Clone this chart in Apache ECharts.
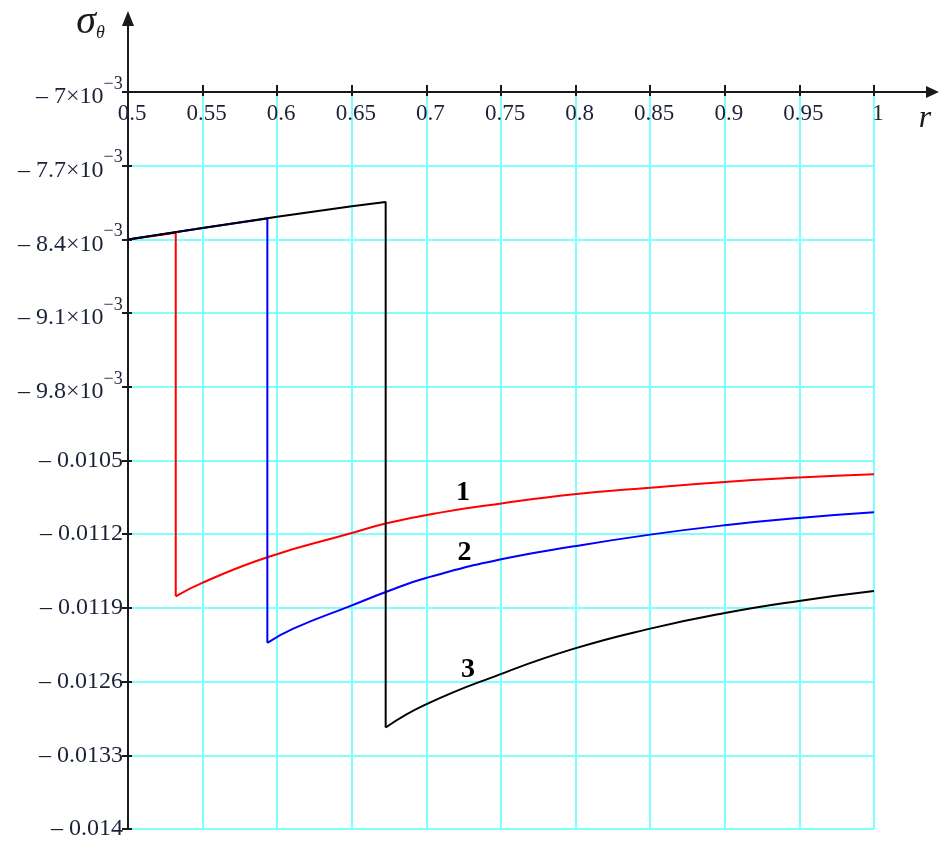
<!DOCTYPE html>
<html>
<head>
<meta charset="utf-8">
<script src="https://cdn.jsdelivr.net/npm/echarts@6/dist/echarts.min.js"></script>
<style>
  html, body { margin: 0; padding: 0; background: #fff; }
  #chart { width: 940px; height: 843px; }
</style>
</head>
<body>
<div id="chart"></div>
<script>
// Axis ranges and tick labels
const xMin = 0.5, xMax = 1, xStep = 0.05;
const yMin = -0.014, yMax = -0.007, yStep = 0.0007;
const xTickLabels = ['0.5', '0.55', '0.6', '0.65', '0.7', '0.75', '0.8', '0.85', '0.9', '0.95', '1'];
const yTickLabels = ['– 0.014', '– 0.0133', '– 0.0126', '– 0.0119', '– 0.0112', '– 0.0105',
                     '– 9.8×10^−3', '– 9.1×10^−3', '– 8.4×10^−3', '– 7.7×10^−3', '– 7×10^−3'];

// Curve 1 (red): radius r and hoop stress σθ (the repeated r is the jump)
const r1 = [0.5, 0.532, 0.532, 0.5494, 0.5934, 0.6488, 0.6741, 0.7091, 0.7493, 0.799, 0.85, 0.9, 0.9497, 1.0];
const s1 = [-0.0084, -0.008336, -0.01179, -0.011664, -0.011419, -0.011194, -0.011094, -0.010995, -0.01091, -0.010821, -0.010758, -0.010704, -0.010662, -0.010631];

// Curve 2 (blue)
const r2 = [0.5, 0.55, 0.5934, 0.5934, 0.6108, 0.6488, 0.6741, 0.6997, 0.7493, 0.799, 0.85, 0.9, 0.9497, 1.0];
const s2 = [-0.0084, -0.008292, -0.008202, -0.012232, -0.012097, -0.011883, -0.011742, -0.011616, -0.011441, -0.011315, -0.011204, -0.011115, -0.011046, -0.010992];

// Curve 3 (black)
const r3 = [0.5, 0.55, 0.6, 0.65, 0.6727, 0.6727, 0.699, 0.7493, 0.799, 0.85, 0.9, 0.9497, 1.0];
const s3 = [-0.0084, -0.008292, -0.008185, -0.008085, -0.008045, -0.013036, -0.012821, -0.012531, -0.012287, -0.012097, -0.011949, -0.011834, -0.01174];

// Curve numbers placed next to each curve
const tagText = ['1', '2', '3'];
const tagR = [0.7245, 0.7255, 0.7279];
const tagS = [-0.010802, -0.011372, -0.012483];

const serif = "'Liberation Serif', 'Times New Roman', serif";
const labelColor = '#1b2238';
const axisColor = '#1a1a1a';
const gridColor = '#80ffff';

const pairs = (xs, ys) => xs.map((x, i) => [x, ys[i]]);

// Each curve: straight upper branch with the vertical drop, then a smooth lower branch
function curveSeries(name, xs, ys, color, z) {
  const pts = pairs(xs, ys);
  let j = 1;
  while (j < xs.length && xs[j] !== xs[j - 1]) j++;
  const common = { type: 'line', showSymbol: false, symbol: 'none', z: z,
                   lineStyle: { color: color, width: 2 }, itemStyle: { color: color } };
  return [
    Object.assign({ name: name, data: pts.slice(0, j + 1) }, common),
    Object.assign({ name: name, data: pts.slice(j), smooth: 0.5 }, common)
  ];
}

function yLabel(v) {
  const t = yTickLabels[Math.round((v - yMin) / yStep)] || '';
  const k = t.indexOf('^');
  if (k < 0) return '{p|' + t + '}';
  return '{n|' + t.slice(0, k) + '}{e|' + t.slice(k + 1) + '}{g| }';
}

const chart = echarts.init(document.getElementById('chart'), null, { renderer: 'canvas' });

const option = {
  animation: false,
  backgroundColor: '#fff',
  grid: { left: 128, right: 66, top: 92, bottom: 14, show: false },
  xAxis: [{
    type: 'value', position: 'top', min: xMin, max: xMax, interval: xStep,
    axisLine: { show: true, lineStyle: { color: axisColor, width: 2 } },
    axisTick: { show: true, inside: false, length: 7, lineStyle: { color: axisColor, width: 2 } },
    axisLabel: { show: true, inside: true, margin: 10, fontFamily: serif, fontSize: 23, color: labelColor,
                 padding: [0, 0, 0, 8],
                 formatter: v => xTickLabels[Math.round((v - xMin) / xStep)] || '' },
    splitLine: { show: true, lineStyle: { color: gridColor, width: 2 } }
  }, {
    type: 'value', position: 'top', min: xMin, max: xMax, interval: xStep,
    axisLine: { show: false },
    axisTick: { show: true, inside: true, length: 4, lineStyle: { color: axisColor, width: 2 } },
    axisLabel: { show: false }, splitLine: { show: false }
  }],
  yAxis: [{
    type: 'value', position: 'left', min: yMin, max: yMax, interval: yStep,
    name: '{s|σ}{t|θ}{g| }', nameLocation: 'end', nameGap: 50,
    nameTextStyle: {
      align: 'right', verticalAlign: 'bottom', padding: [0, 23, 0, 0],
      rich: {
        s: { fontFamily: serif, fontStyle: 'italic', fontSize: 40, lineHeight: 34, verticalAlign: 'top', color: '#1a1a1a' },
        t: { fontFamily: serif, fontStyle: 'italic', fontSize: 18, lineHeight: 18, verticalAlign: 'bottom', color: '#1a1a1a' },
        g: { fontSize: 1, lineHeight: 40 }
      }
    },
    axisLine: { show: true, lineStyle: { color: axisColor, width: 2 } },
    axisTick: { show: true, inside: false, length: 6, lineStyle: { color: axisColor, width: 2 } },
    axisLabel: {
      show: true, margin: 5, formatter: yLabel,
      rich: {
        p: { fontFamily: serif, fontSize: 24, lineHeight: 24, color: labelColor },
        n: { fontFamily: serif, fontSize: 24, lineHeight: 24, verticalAlign: 'bottom', color: labelColor },
        e: { fontFamily: serif, fontSize: 18, lineHeight: 18, verticalAlign: 'top', color: labelColor },
        g: { fontSize: 1, lineHeight: 34 }
      }
    },
    splitLine: { show: true, lineStyle: { color: gridColor, width: 2 } }
  }, {
    type: 'value', position: 'left', min: yMin, max: yMax, interval: yStep,
    axisLine: { show: false },
    axisTick: { show: true, inside: true, length: 4, lineStyle: { color: axisColor, width: 2 } },
    axisLabel: { show: false }, splitLine: { show: false }
  }],
  series: [].concat(
    curveSeries('1', r1, s1, '#ff0000', 3),
    curveSeries('2', r2, s2, '#0000ff', 4),
    curveSeries('3', r3, s3, '#000000', 5),
    [{ name: 'tags', type: 'scatter', symbolSize: 0, z: 6, silent: true,
       itemStyle: { opacity: 1 },
       data: tagR.map((x, i) => ({ value: [x, tagS[i]], name: tagText[i] })),
       label: { show: true, position: 'inside', formatter: p => p.name, opacity: 1,
                fontFamily: serif, fontWeight: 'bold', fontSize: 28, color: '#000',
                textBorderWidth: 0, textBorderColor: 'transparent' } }]
  )
};
chart.setOption(option);

// Axis arrows: the axes run past the plotting area and end in filled arrowheads;
// the radius axis title sits just past the arrow's shaft
const o = chart.convertToPixel({ xAxisIndex: 0, yAxisIndex: 0 }, [xMin, yMax]);
const e = chart.convertToPixel({ xAxisIndex: 0, yAxisIndex: 0 }, [xMax, yMax]);
const stroke = { stroke: axisColor, lineWidth: 2 };
chart.setOption({
  graphic: [
    { type: 'line', shape: { x1: o[0], y1: o[1], x2: o[0], y2: o[1] - 70 }, style: stroke, z: 10 },
    { type: 'polygon', shape: { points: [[o[0], o[1] - 81], [o[0] - 6, o[1] - 66], [o[0] + 6, o[1] - 66]] },
      style: { fill: axisColor }, z: 10 },
    { type: 'line', shape: { x1: e[0], y1: e[1], x2: e[0] + 58, y2: e[1] }, style: stroke, z: 10 },
    { type: 'polygon', shape: { points: [[e[0] + 65, e[1]], [e[0] + 52, e[1] - 6], [e[0] + 52, e[1] + 6]] },
      style: { fill: axisColor }, z: 10 },
    { type: 'text', x: e[0] + 51, y: e[1] + 27, z: 10,
      style: { text: 'r', fontFamily: serif, fontStyle: 'italic', fontSize: 32, fill: '#1a1a1a',
               align: 'center', verticalAlign: 'middle' } }
  ]
});
</script>
</body>
</html>
